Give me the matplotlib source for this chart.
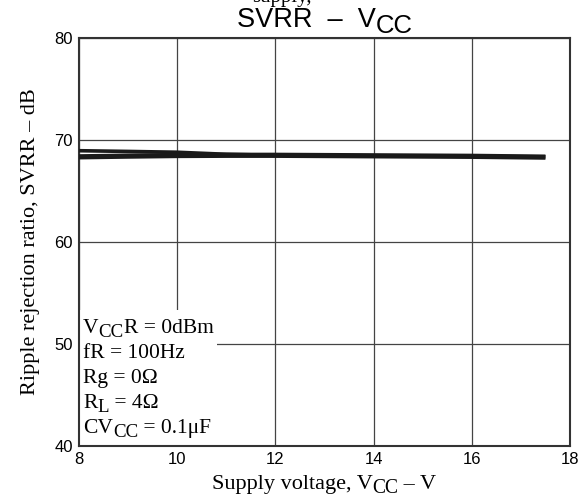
import matplotlib
matplotlib.use("Agg")
import matplotlib.pyplot as plt
from matplotlib.patches import Rectangle
from matplotlib.transforms import IdentityTransform

# data
vcc_upper = [8, 9, 10, 11, 12, 14, 16, 17.5]
svrr_upper = [68.95, 68.88, 68.8, 68.6, 68.5, 68.45, 68.4, 68.35]
vcc_lower = [8, 9, 10, 11, 12, 14, 16, 17.5]
svrr_lower = [68.35, 68.42, 68.48, 68.5, 68.5, 68.45, 68.4, 68.32]

xticks = [8, 10, 12, 14, 16, 18]
yticks = [40, 50, 60, 70, 80]
# (text, is_subscript) pieces for each condition line
conditions = [[("V", 0), ("CC", 1), ("R = 0dBm", 0)],
              [("fR = 100Hz", 0)],
              [("Rg = 0Ω", 0)],
              [("R", 0), ("L", 1), (" = 4Ω", 0)],
              [("CV", 0), ("CC", 1), (" = 0.1μF", 0)]]

serif = 'Liberation Serif'
sans = 'Liberation Sans'
W, H = 581, 497

fig = plt.figure(figsize=(W / 100, H / 100), dpi=100)
renderer = fig.canvas.get_renderer()


def rich_text(x, y, pieces, size, family, ha='left', sub_scale=0.9, sub_drop=4.5):
    # x, y in pixels from top-left; y is the baseline
    texts = []
    for s, sub in pieces:
        t = fig.text(0, 0, s, family=family, fontsize=size * (sub_scale if sub else 1),
                     va='baseline', ha='left', transform=IdentityTransform())
        texts.append((t, sub))
    widths = [t.get_window_extent(renderer).width for t, _ in texts]
    total = sum(widths)
    cx = x - total / 2 if ha == 'center' else x
    for (t, sub), w in zip(texts, widths):
        t.set_position((cx, H - y - (sub_drop if sub else 0)))
        cx += w


ax = fig.add_axes([79 / W, 1 - 446 / H, (570 - 79) / W, (446 - 38) / H])

ax.plot(vcc_upper, svrr_upper, color='#1a1a1a', lw=2.6, solid_capstyle='butt', zorder=3)
ax.plot(vcc_lower, svrr_lower, color='#1a1a1a', lw=3.8, solid_capstyle='butt', zorder=3)

ax.set_xlim(8, 18)
ax.set_ylim(40, 80)
ax.set_xticks(xticks)
ax.set_yticks(yticks)
ax.grid(True, color='#444444', lw=0.9)
ax.tick_params(length=0, pad=4.5, labelsize=12)
for lab in ax.get_xticklabels() + ax.get_yticklabels():
    lab.set_fontfamily(sans)
for sp in ax.spines.values():
    sp.set_color('#333333')
    sp.set_linewidth(1.5)

# white condition box over the grid
ax.add_patch(Rectangle((8, 40), 2.82, 13.3, facecolor='white', edgecolor='none', zorder=2))
for i, line in enumerate(conditions):
    rich_text(83, 333 + i * 25, line, 15.5, serif, sub_scale=0.88, sub_drop=4)

ax.set_ylabel("Ripple rejection ratio, SVRR – dB", family=serif, fontsize=16, labelpad=10)

rich_text(324, 489, [("Supply voltage, V", 0), ("CC", 1), (" – V", 0)], 16, serif,
          ha='center', sub_scale=0.88, sub_drop=4)
rich_text(325, 27, [("SVRR  –  V", 0), ("CC", 1)], 19.5, sans, ha='center',
          sub_scale=0.95, sub_drop=6)
fig.text(282 / W, 1 - 2 / H, "supply,", family=serif, fontsize=15, ha='center', va='baseline')

fig.savefig("out.png", dpi=100)
